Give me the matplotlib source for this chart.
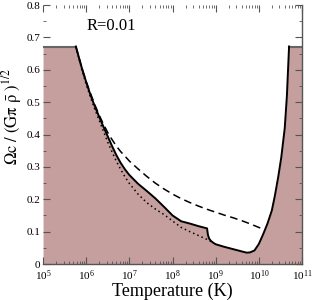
import numpy as np
import matplotlib
matplotlib.use("Agg")
import matplotlib.pyplot as plt
from matplotlib.ticker import FixedLocator, FuncFormatter, LogLocator

plt.rcParams['font.family'] = ['Liberation Serif', 'DejaVu Serif']
plt.rcParams['mathtext.fontset'] = 'stix'

# solid boundary (log10 T, Omega)
solid_logT = [5.0, 5.76, 5.9, 6.0, 6.1, 6.2, 6.3, 6.4, 6.5, 6.6, 6.7, 6.8, 6.9, 7.0,
              7.2, 7.4, 7.6, 7.8, 8.0, 8.2, 8.4, 8.6, 8.8, 8.82, 8.85, 8.9, 8.95,
              9.0, 9.2, 9.4, 9.6, 9.72, 9.8, 9.9, 10.0, 10.1, 10.2, 10.3, 10.37,
              10.45, 10.52, 10.6, 10.65, 10.70, 11.0]
solid_val = [0.672, 0.672, 0.605, 0.562, 0.522, 0.487, 0.455, 0.424, 0.394, 0.364,
             0.336, 0.312, 0.292, 0.275, 0.248, 0.226, 0.203, 0.177, 0.150, 0.132,
             0.125, 0.117, 0.110, 0.09, 0.078, 0.07, 0.065, 0.061, 0.053, 0.046,
             0.039, 0.035, 0.036, 0.042, 0.062, 0.092, 0.125, 0.165, 0.21, 0.27,
             0.33, 0.42, 0.52, 0.672, 0.672]

dash_logT = [5.76, 5.9, 6.0, 6.1, 6.2, 6.3, 6.4, 6.5, 6.6, 6.7, 6.8, 6.9, 7.0, 7.2,
             7.4, 7.6, 7.8, 8.0, 8.2, 8.4, 8.6, 8.8, 9.0, 9.2, 9.4, 9.6, 9.8, 10.0,
             10.13]
dash_val = [0.672, 0.605, 0.563, 0.527, 0.492, 0.46, 0.432, 0.406, 0.384, 0.364,
            0.347, 0.333, 0.318, 0.294, 0.271, 0.25, 0.232, 0.216, 0.202, 0.19,
            0.179, 0.169, 0.16, 0.151, 0.143, 0.134, 0.124, 0.113, 0.106]

dot_logT = [5.76, 5.9, 6.0, 6.1, 6.2, 6.3, 6.4, 6.5, 6.6, 6.7, 6.8, 6.9, 7.0, 7.2,
            7.4, 7.6, 7.8, 8.0, 8.2, 8.4, 8.6, 8.8, 8.95]
dot_val = [0.672, 0.6, 0.555, 0.515, 0.478, 0.444, 0.41, 0.376, 0.346, 0.317,
           0.292, 0.269, 0.249, 0.216, 0.19, 0.17, 0.153, 0.133, 0.113, 0.1,
           0.088, 0.076, 0.065]

T_s = 10 ** np.array(solid_logT)
T_d = 10 ** np.array(dash_logT)
T_o = 10 ** np.array(dot_logT)

fig = plt.figure(figsize=(3.12, 3.0), dpi=100)
ax = fig.add_axes([0.138, 0.12, 0.83, 0.863])

ax.fill_between(T_s, 0, solid_val, color='#c59e9e', lw=0, zorder=1)
ax.plot(T_s[:2], solid_val[:2], color='#666666', lw=1.5, zorder=2)
ax.plot(T_s[-2:], solid_val[-2:], color='#666666', lw=1.5, zorder=2)
ax.plot(T_s[1:-1], solid_val[1:-1], color='black', lw=1.4, zorder=3)
ax.plot(T_d, dash_val, color='black', lw=1.1, ls=(0, (5, 3)), zorder=3)
ax.plot(T_o, dot_val, color='black', lw=1.1, ls=(0, (1, 2)), zorder=3)

ax.set_xscale('log')
ax.set_xlim(1e5, 1e11)
ax.set_ylim(0, 0.8)
ax.xaxis.set_major_locator(LogLocator(base=10, numticks=10))
ax.xaxis.set_minor_locator(LogLocator(base=10, subs=np.arange(2, 10), numticks=100))
ax.yaxis.set_major_locator(FixedLocator(np.arange(0, 0.81, 0.1)))
ax.yaxis.set_minor_locator(FixedLocator(np.arange(0.05, 0.8, 0.1)))
ax.yaxis.set_major_formatter(FuncFormatter(lambda v, p: '0' if abs(v) < 1e-9 else '%.1f' % v))

ax.tick_params(which='both', direction='in', top=True, right=True, colors='#555555',
               labelcolor='black', labelsize=8, pad=2)
ax.tick_params(axis='x', pad=3)
ax.tick_params(which='major', length=5, width=0.8)
ax.tick_params(which='minor', length=2.5, width=0.6)

ax.spines['top'].set_visible(False)
ax.spines['left'].set_visible(False)
for s in ['right', 'bottom']:
    ax.spines[s].set_color('#555555')
    ax.spines[s].set_linewidth(1.0)

ax.text(1.0e6, 0.722, 'R=0.01', fontsize=12)
ax.set_xlabel('Temperature (K)', fontsize=13, labelpad=0)
ax.set_ylabel(r'$\mathrm{\Omega c\ /\ (G\pi\ \bar{\rho}\ )^{1/2}}$', fontsize=12)
ax.yaxis.set_label_coords(-0.072, 0.57)

fig.savefig('out.png', dpi=100)
